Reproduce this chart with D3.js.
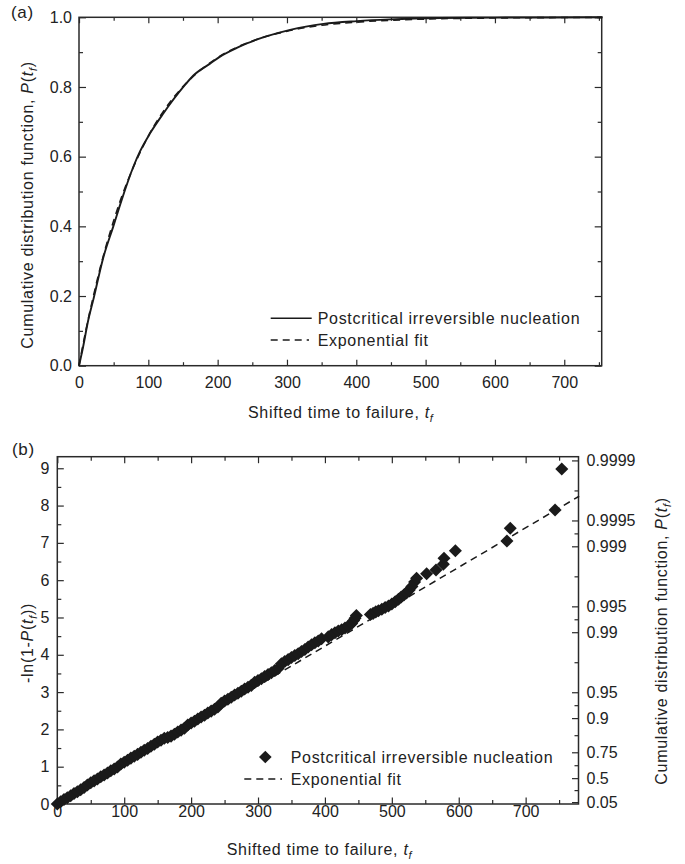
<!DOCTYPE html>
<html lang="en">
<head>
<meta charset="UTF-8">
<title>Postcritical irreversible nucleation - time to failure</title>
<script src="https://d3js.org/d3.v7.min.js"></script>
<style>
  body { margin: 0; background: #fff; }
  svg { display: block; font-family: "Liberation Sans", Arial, sans-serif; }
  .lbl { fill: #222; font-size: 16px; letter-spacing: 0.7px; }
</style>
</head>
<body>
<script>
// ---- panel (a): cumulative distribution ----
const tCdf = [0, 5, 13.4, 20.6, 35, 49.5, 61.6, 78.4, 88, 102.5, 121.6, 150.5, 165, 189, 203.5, 227.6, 242, 270, 304.5, 352.5, 400.7, 448.8, 521, 600, 680, 755];
const pCdf = [0, 0.045, 0.131, 0.189, 0.31, 0.40, 0.476, 0.571, 0.615, 0.667, 0.724, 0.80, 0.833, 0.867, 0.887, 0.912, 0.925, 0.945, 0.964, 0.981, 0.989, 0.994, 0.998, 0.9992, 0.9996, 1.0];
const tFitA = [0, 10, 20, 30, 40, 50, 60, 80, 100, 120, 150, 200, 250, 300, 350, 400, 500, 600, 755];
const pFitA = [0, 0.102, 0.193, 0.276, 0.35, 0.416, 0.476, 0.577, 0.659, 0.725, 0.801, 0.884, 0.932, 0.96, 0.977, 0.986, 0.995, 0.998, 0.9997];

// ---- panel (b): -ln(1-P) points and linear fit ----
const tPts = [0, 5, 10, 15, 20, 25, 30, 35, 40, 45, 50, 55, 60, 65, 70, 75, 80, 85, 90, 95,
  100, 105, 110, 115, 120, 125, 130, 135, 140, 145, 150, 155, 160, 165, 170, 175, 180, 185, 190, 195,
  200, 205, 210, 215, 220, 225, 230, 235, 240, 245, 250, 255, 260, 265, 270, 275, 280, 285, 290, 295,
  300, 305, 310, 315, 320, 325, 330, 335, 340, 345, 350, 355, 360, 365, 370, 375, 380, 385, 390, 395,
  405, 410, 415, 420, 425, 430, 435, 440, 443, 445, 447,
  468, 472, 476, 480, 485, 490, 495, 500, 505, 510, 514, 518, 522, 526, 530, 534,
  537, 552, 566, 577, 578, 595, 672, 677, 744, 754];
const vPts = [0, 0.06, 0.12, 0.17, 0.22, 0.28, 0.33, 0.38, 0.44, 0.51, 0.57, 0.62, 0.67, 0.73, 0.78, 0.83, 0.89, 0.94, 0.99, 1.07,
  1.12, 1.17, 1.23, 1.28, 1.33, 1.39, 1.44, 1.49, 1.55, 1.60, 1.66, 1.71, 1.76, 1.78, 1.82, 1.87, 1.93, 1.98, 2.03, 2.12,
  2.17, 2.22, 2.28, 2.33, 2.38, 2.44, 2.49, 2.54, 2.60, 2.70, 2.76, 2.81, 2.86, 2.92, 2.97, 3.02, 3.08, 3.13, 3.18, 3.26,
  3.31, 3.36, 3.42, 3.47, 3.52, 3.58, 3.63, 3.76, 3.82, 3.87, 3.93, 3.98, 4.03, 4.09, 4.14, 4.21, 4.27, 4.32, 4.37, 4.43,
  4.48, 4.54, 4.59, 4.64, 4.67, 4.72, 4.77, 4.84, 4.92, 4.98, 5.05,
  5.08, 5.11, 5.15, 5.18, 5.22, 5.27, 5.31, 5.36, 5.42, 5.49, 5.55, 5.60, 5.66, 5.74, 5.83, 5.95,
  6.05, 6.17, 6.27, 6.43, 6.59, 6.79, 7.05, 7.39, 7.88, 8.98];
const tFitB = [0, 780];
const vFitB = [0, 8.25];

// tick labels
const xMajor = [0, 100, 200, 300, 400, 500, 600, 700];
const xMinor = [50, 150, 250, 350, 450, 550, 650, 750];
const yMajorA = [0, 0.2, 0.4, 0.6, 0.8, 1.0];
const yMinorA = [0.1, 0.3, 0.5, 0.7, 0.9];
const yMajorB = [0, 1, 2, 3, 4, 5, 6, 7, 8, 9];
const yMinorB = [0.5, 1.5, 2.5, 3.5, 4.5, 5.5, 6.5, 7.5, 8.5];
const probLabels = ["0.05", "0.5", "0.75", "0.9", "0.95", "0.99", "0.995", "0.999", "0.9995", "0.9999"];

const legendSeries = "Postcritical irreversible nucleation";
const legendFit = "Exponential fit";

const svg = d3.select("body").append("svg").attr("width", 685).attr("height", 864);
const ink = "#2a2a2a";

function styleAxis(g) {
  g.select(".domain").remove();
  g.attr("font-family", null).attr("font-size", null);
  g.selectAll(".tick line").attr("stroke", ink).attr("stroke-width", 1.2);
  g.selectAll(".tick text").attr("fill", "#222").style("font-size", "16px");
}

function frame(x, y) {
  svg.append("rect")
    .attr("x", x.range()[0]).attr("y", y.range()[1])
    .attr("width", x.range()[1] - x.range()[0])
    .attr("height", y.range()[0] - y.range()[1])
    .attr("fill", "none").attr("stroke", ink).attr("stroke-width", 1.5);
}

// subscripted italic t_f
function addTf(text) {
  text.append("tspan").attr("font-style", "italic").text("t");
  text.append("tspan").attr("font-style", "italic").attr("font-size", "11px").attr("dy", 4).text("f");
}

// =============== Panel (a) ===============
const xA = d3.scaleLinear().domain([0, 754]).range([79, 601.7]);
const yA = d3.scaleLinear().domain([0, 1]).range([365.7, 17.3]);

svg.append("g").attr("transform", `translate(0,${yA(0)})`)
  .call(d3.axisBottom(xA).tickValues(xMajor).tickSize(-6).tickPadding(11).tickFormat(d3.format("d"))).call(styleAxis);
svg.append("g").attr("transform", `translate(0,${yA(0)})`)
  .call(d3.axisBottom(xA).tickValues(xMinor).tickSize(-3.5).tickFormat("")).call(styleAxis);
svg.append("g").attr("transform", `translate(0,${yA(1)})`)
  .call(d3.axisTop(xA).tickValues(xMajor).tickSize(-6).tickFormat("")).call(styleAxis);
svg.append("g").attr("transform", `translate(0,${yA(1)})`)
  .call(d3.axisTop(xA).tickValues(xMinor).tickSize(-3.5).tickFormat("")).call(styleAxis);
svg.append("g").attr("transform", `translate(${xA(0)},0)`)
  .call(d3.axisLeft(yA).tickValues(yMajorA).tickSize(-7).tickPadding(7).tickFormat(d3.format(".1f"))).call(styleAxis);
svg.append("g").attr("transform", `translate(${xA(0)},0)`)
  .call(d3.axisLeft(yA).tickValues(yMinorA).tickSize(-4).tickFormat("")).call(styleAxis);
svg.append("g").attr("transform", `translate(${xA.range()[1]},0)`)
  .call(d3.axisRight(yA).tickValues(yMajorA).tickSize(-7).tickFormat("")).call(styleAxis);
svg.append("g").attr("transform", `translate(${xA.range()[1]},0)`)
  .call(d3.axisRight(yA).tickValues(yMinorA).tickSize(-4).tickFormat("")).call(styleAxis);
frame(xA, yA);

const lineA = d3.line().x(d => xA(d[0])).y(d => yA(d[1])).curve(d3.curveMonotoneX);
svg.append("path").datum(d3.zip(tFitA, pFitA)).attr("d", lineA)
  .attr("fill", "none").attr("stroke", "#1a1a1a").attr("stroke-width", 1.6).attr("stroke-dasharray", "7,5");
svg.append("path").datum(d3.zip(tCdf, pCdf)).attr("d", lineA)
  .attr("fill", "none").attr("stroke", "#1a1a1a").attr("stroke-width", 1.9);

// legend (a)
svg.append("line").attr("x1", 270.7).attr("x2", 311.7).attr("y1", 318.3).attr("y2", 318.3)
  .attr("stroke", "#1a1a1a").attr("stroke-width", 1.6);
svg.append("text").attr("class", "lbl").attr("x", 317.7).attr("y", 324).text(legendSeries);
svg.append("line").attr("x1", 270.7).attr("x2", 309).attr("y1", 340).attr("y2", 340)
  .attr("stroke", "#1a1a1a").attr("stroke-width", 1.6).attr("stroke-dasharray", "7,5");
svg.append("text").attr("class", "lbl").attr("x", 317.7).attr("y", 346).text(legendFit);

// titles (a)
svg.append("text").attr("class", "lbl").attr("x", 11).attr("y", 18).style("font-size", "17px").text("(a)");
const xtA = svg.append("text").attr("class", "lbl").attr("x", 248).attr("y", 418).text("Shifted time to failure, ");
addTf(xtA);
const ytA = svg.append("text").attr("class", "lbl").attr("text-anchor", "middle")
  .attr("transform", "translate(33,205) rotate(-90)").text("Cumulative distribution function, ");
ytA.append("tspan").attr("font-style", "italic").text("P");
ytA.append("tspan").text("(");
addTf(ytA);
ytA.append("tspan").attr("dy", -4).text(")");

// =============== Panel (b) ===============
const xB = d3.scaleLinear().domain([0, 779]).range([57.3, 578.5]);
const yB = d3.scaleLinear().domain([0, 9.31]).range([804, 456.7]);

const probPos = probLabels.map(p => -Math.log(1 - +p));
const probMinor = probPos.slice(1).map((v, i) => (v + probPos[i]) / 2);

svg.append("g").attr("transform", `translate(0,${yB(0)})`)
  .call(d3.axisBottom(xB).tickValues(xMajor).tickSize(-6.5).tickPadding(2).tickFormat(d3.format("d"))).call(styleAxis);
svg.append("g").attr("transform", `translate(0,${yB(0)})`)
  .call(d3.axisBottom(xB).tickValues(xMinor).tickSize(-4).tickFormat("")).call(styleAxis);
svg.append("g").attr("transform", `translate(0,${yB.range()[1]})`)
  .call(d3.axisTop(xB).tickValues(xMajor).tickSize(-6.5).tickFormat("")).call(styleAxis);
svg.append("g").attr("transform", `translate(0,${yB.range()[1]})`)
  .call(d3.axisTop(xB).tickValues(xMinor).tickSize(-4).tickFormat("")).call(styleAxis);
svg.append("g").attr("transform", `translate(${xB(0)},0)`)
  .call(d3.axisLeft(yB).tickValues(yMajorB).tickSize(-6.5).tickPadding(8).tickFormat(d3.format("d"))).call(styleAxis);
svg.append("g").attr("transform", `translate(${xB(0)},0)`)
  .call(d3.axisLeft(yB).tickValues(yMinorB).tickSize(-4).tickFormat("")).call(styleAxis);
svg.append("g").attr("transform", `translate(${xB.range()[1]},0)`)
  .call(d3.axisRight(yB).tickValues(probPos).tickSize(-6.5).tickPadding(8).tickFormat((d, i) => probLabels[i])).call(styleAxis);
svg.append("g").attr("transform", `translate(${xB.range()[1]},0)`)
  .call(d3.axisRight(yB).tickValues(probMinor).tickSize(-4).tickFormat("")).call(styleAxis);
frame(xB, yB);

const lineB = d3.line().x(d => xB(d[0])).y(d => yB(d[1]));
svg.append("path").datum(d3.zip(tFitB, vFitB)).attr("d", lineB)
  .attr("fill", "none").attr("stroke", "#1a1a1a").attr("stroke-width", 1.5).attr("stroke-dasharray", "7,5");

const diamond = d3.symbol().type(d3.symbolSquare).size(85);
svg.append("g").selectAll("path").data(d3.zip(tPts, vPts)).join("path")
  .attr("d", diamond)
  .attr("transform", d => `translate(${xB(d[0])},${yB(d[1])}) rotate(45)`)
  .attr("fill", "#1a1a1a");

// legend (b)
svg.append("path").attr("d", d3.symbol().type(d3.symbolSquare).size(80))
  .attr("transform", "translate(265.3,757) rotate(45)").attr("fill", "#1a1a1a");
svg.append("text").attr("class", "lbl").attr("x", 290.7).attr("y", 763).text(legendSeries);
svg.append("line").attr("x1", 244.3).attr("x2", 282).attr("y1", 779).attr("y2", 779)
  .attr("stroke", "#1a1a1a").attr("stroke-width", 1.6).attr("stroke-dasharray", "7,5");
svg.append("text").attr("class", "lbl").attr("x", 290.7).attr("y", 785).text(legendFit);

// titles (b)
svg.append("text").attr("class", "lbl").attr("x", 12).attr("y", 455).style("font-size", "17px").text("(b)");
const xtB = svg.append("text").attr("class", "lbl").attr("x", 226.7).attr("y", 854.5).text("Shifted time to failure, ");
addTf(xtB);
const ytB = svg.append("text").attr("class", "lbl").attr("text-anchor", "middle")
  .attr("transform", "translate(33,643) rotate(-90)").text("-ln(1-");
ytB.append("tspan").attr("font-style", "italic").text("P");
ytB.append("tspan").text("(");
addTf(ytB);
ytB.append("tspan").attr("dy", -4).text("))");
const ytB2 = svg.append("text").attr("class", "lbl").attr("text-anchor", "middle")
  .attr("transform", "translate(667,641) rotate(-90)").text("Cumulative distribution function, ");
ytB2.append("tspan").attr("font-style", "italic").text("P");
ytB2.append("tspan").text("(");
addTf(ytB2);
ytB2.append("tspan").attr("dy", -4).text(")");
</script>
</body>
</html>
